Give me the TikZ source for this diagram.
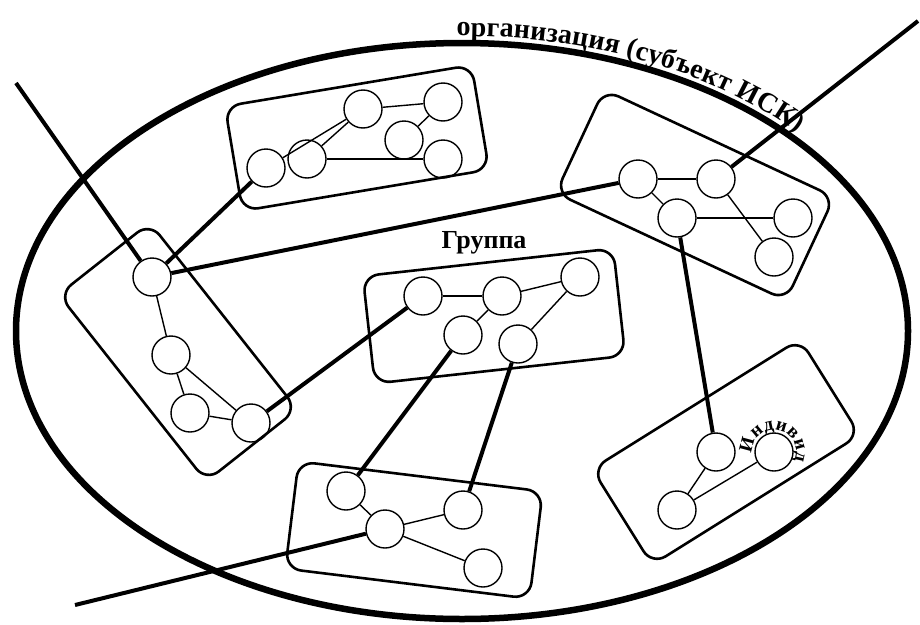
\documentclass[tikz,border=0pt]{standalone}
\usepackage{fontspec}
\setmainfont{Liberation Serif}
\usetikzlibrary{decorations.text}
\begin{document}
\begin{tikzpicture}[x=1pt,y=1pt,
  nd/.style={circle,draw,line width=1.4pt,minimum size=38pt,inner sep=0pt},
  grp/.style={draw,line width=2.6pt,rounded corners=16pt,inner sep=0pt},
  edge/.style={line width=1.4pt},
  link/.style={line width=4pt},
  org/.style={line width=6.5pt}]
\useasboundingbox (0,0) rectangle (920,-624);
% organisation ellipse
\draw[org] (462,-331) ellipse [x radius=446, y radius=288];
\path[decorate,decoration={text along path,text align=center,raise=7pt,
  text={|\bfseries\fontsize{28}{28}\selectfont|организация (субъект ИСК)}}]
  (462,-331) ++(94:446 and 288) arc[start angle=94,end angle=38,x radius=446,y radius=288];
% group boxes
\node[grp,minimum width=250pt,minimum height=106pt,rotate=9.5] (g1) at (357,-138) {};
\node[grp,minimum width=238pt,minimum height=116pt,rotate=-51.7] (gl) at (178,-352) {};
\node[grp,minimum width=252pt,minimum height=108pt,rotate=6.3] (gm) at (494,-316) {};
\node[grp,minimum width=246pt,minimum height=108pt,rotate=-7] (gb) at (414,-530) {};
\node[grp,minimum width=254pt,minimum height=114pt,rotate=-25] (gr) at (695,-195) {};
\node[grp,minimum width=245pt,minimum height=113pt,rotate=32] (grb) at (726,-452) {};
% individuals
\node[nd] (a1) at (266,-168) {};
\node[nd] (a2) at (307,-159) {};
\node[nd] (a3) at (363,-109) {};
\node[nd] (a4) at (443,-102) {};
\node[nd] (a5) at (404,-140) {};
\node[nd] (a6) at (443,-159) {};
\node[nd] (l1) at (152,-277) {};
\node[nd] (l2) at (171,-355) {};
\node[nd] (l3) at (190,-413) {};
\node[nd] (l4) at (251,-423) {};
\node[nd] (m1) at (423,-296) {};
\node[nd] (m2) at (502,-296) {};
\node[nd] (m3) at (580,-277) {};
\node[nd] (m4) at (463,-335) {};
\node[nd] (m5) at (518,-344) {};
\node[nd] (b1) at (346,-491) {};
\node[nd] (b2) at (385,-529) {};
\node[nd] (b3) at (463,-510) {};
\node[nd] (b4) at (483,-568) {};
\node[nd] (r1) at (638,-179) {};
\node[nd] (r2) at (716,-179) {};
\node[nd] (r3) at (677,-218) {};
\node[nd] (r4) at (793,-218) {};
\node[nd] (r5) at (774,-257) {};
\node[nd] (s1) at (716,-452) {};
\node[nd] (s2) at (774,-452) {};
\node[nd] (s3) at (677,-510) {};
% inner links
\draw[edge] (a1) -- (a3);
\draw[edge] (a2) -- (a3);
\draw[edge] (a3) -- (a4);
\draw[edge] (a4) -- (a5);
\draw[edge] (a2) -- (a6);
\draw[edge] (l1) -- (l2);
\draw[edge] (l2) -- (l3);
\draw[edge] (l2) -- (l4);
\draw[edge] (l3) -- (l4);
\draw[edge] (m1) -- (m2);
\draw[edge] (m2) -- (m3);
\draw[edge] (m2) -- (m4);
\draw[edge] (m3) -- (m5);
\draw[edge] (b1) -- (b2);
\draw[edge] (b2) -- (b3);
\draw[edge] (b2) -- (b4);
\draw[edge] (r1) -- (r2);
\draw[edge] (r1) -- (r3);
\draw[edge] (r3) -- (r4);
\draw[edge] (r2) -- (r5);
\draw[edge] (s1) -- (s3);
\draw[edge] (s2) -- (s3);
% outer links
\coordinate (e1) at (16,-83);
\coordinate (e2) at (918,-21);
\coordinate (e3) at (75,-605);
\draw[link] (e1) -- (l1);
\draw[link] (l1) -- (a1);
\draw[link] (l1) -- (r1);
\draw[link] (l4) -- (m1);
\draw[link] (m4) -- (b1);
\draw[link] (m5) -- (b3);
\draw[link] (e3) -- (b2);
\draw[link] (e2) -- (r2);
\draw[link] (r3) -- (s1);
% labels
\node[font=\bfseries\fontsize{26}{26}\selectfont] (lblg) at (484,-243) {Группа};
\path[decorate,decoration={text along path,text align=center,raise=1pt,
  text={|\bfseries\fontsize{19}{19}\selectfont|Индивид}}]
  (s2) ++(178:21) arc[start angle=178,end angle=-18,radius=21];
\end{tikzpicture}
\end{document}
